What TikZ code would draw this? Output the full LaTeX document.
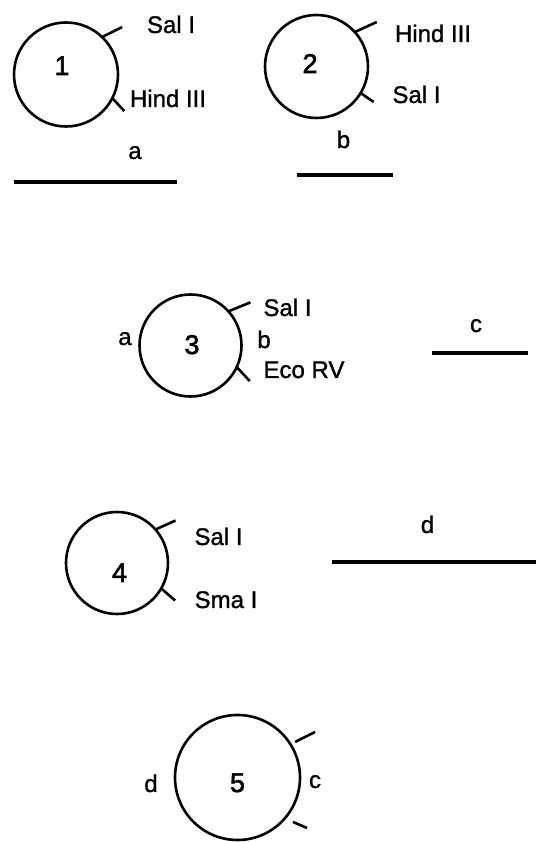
\documentclass[tikz,border=0pt]{standalone}
\usepackage{fontspec}
\setmainfont{Liberation Sans}
\newfontfamily\labfont[FakeBold=1.2]{Liberation Sans}
\newfontfamily\numfont[FakeBold=2.2]{Liberation Sans}
\begin{document}
\begin{tikzpicture}[x=1pt,y=1pt,
  plasmid/.style={draw,circle,line width=2.6pt,inner sep=0pt,outer sep=0pt},
  tick/.style={line width=2.6pt},
  seg/.style={line width=3.4pt},
  lab/.style={anchor=base,inner sep=0pt,font=\labfont\fontsize{24}{28}\selectfont},
  num/.style={anchor=base,inner sep=0pt,font=\numfont\fontsize{27}{30}\selectfont}]
\path[use as bounding box] (0,0) rectangle (536,842);
% plasmid 1
\node[plasmid,minimum size=104pt] (c1) at (66,767.5) {};
\node[num] (n1) at (62,767) {1};
\draw[tick] (c1.46) -- ++(20,10);
\draw[tick] (c1.-27) -- ++(12,-13);
\node[lab] (s1) at (171,809) {Sal I};
\node[lab] (h1) at (168,735) {Hind III};
\node[lab] (la) at (135,683) {a};
\coordinate (a1) at (14,660);
\coordinate (a2) at (177,660);
\draw[seg] (a1) -- (a2);
% plasmid 2
\node[plasmid,minimum size=103pt] (c2) at (316.5,775.5) {};
\node[num] (n2) at (310,769) {2};
\draw[tick] (c2.42) -- ++(22,10);
\draw[tick] (c2.-31.5) -- ++(13,-9);
\node[lab] (h2) at (433,800) {Hind III};
\node[lab] (s2) at (416.5,739) {Sal I};
\node[lab] (lb) at (343.5,694) {b};
\coordinate (b1) at (297,667);
\coordinate (b2) at (393,667);
\draw[seg] (b1) -- (b2);
% plasmid 3
\node[plasmid,minimum size=102pt] (c3) at (190.5,496.5) {};
\node[num] (n3) at (192,488) {3};
\draw[tick] (c3.42) -- ++(22,9);
\draw[tick] (c3.-25.8) -- ++(13,-14);
\node[lab] (s3) at (287.5,526) {Sal I};
\node[lab] (e3) at (304,464) {Eco RV};
\node[lab] (la3) at (125,497) {a};
\node[lab] (lb3) at (264,494) {b};
\node[lab] (lc) at (476,510) {c};
\coordinate (cc1) at (432,489);
\coordinate (cc2) at (528,489);
\draw[seg] (cc1) -- (cc2);
% plasmid 4
\node[plasmid,minimum size=102pt] (c4) at (117,279) {};
\node[num] (n4) at (119.5,260) {4};
\draw[tick] (c4.41.2) -- ++(20,9);
\draw[tick] (c4.-30.4) -- ++(14,-12);
\node[lab] (s4) at (218.5,297) {Sal I};
\node[lab] (m4) at (226,234) {Sma I};
\node[lab] (ld) at (427.5,309) {d};
\coordinate (d1) at (332,280);
\coordinate (d2) at (536,280);
\draw[seg] (d1) -- (d2);
% plasmid 5
\node[plasmid,minimum size=125pt] (c5) at (237.5,64.5) {};
\node[num] (n5) at (237.5,50) {5};
\coordinate (t5a) at ([shift={(31.7:67.6)}]c5.center);
\coordinate (t5b) at ([shift={(-38.7:71.1)}]c5.center);
\draw[tick] (t5a) -- ++(20,10);
\draw[tick] (t5b) -- ++(14,-6);
\node[lab] (ld5) at (151,50) {d};
\node[lab] (lc5) at (315,54) {c};
\end{tikzpicture}
\end{document}
